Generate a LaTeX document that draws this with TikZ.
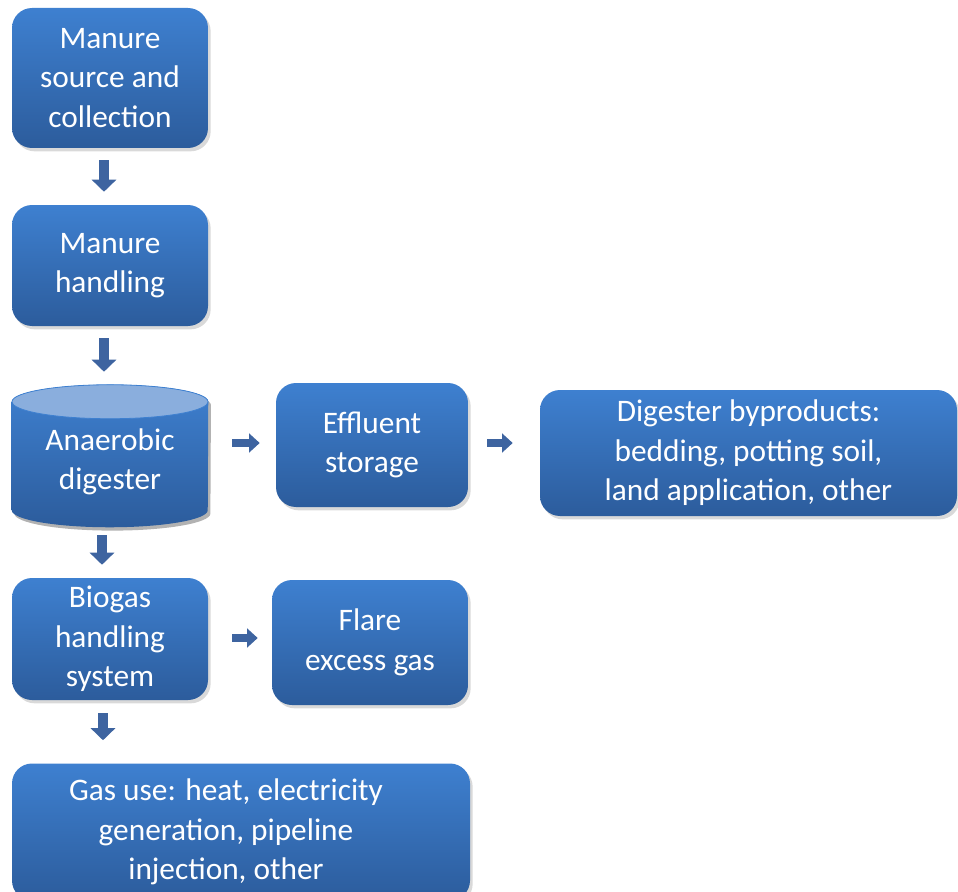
\documentclass[tikz,border=0pt]{standalone}
\usepackage{fontspec}
\setmainfont{Carlito}
\usetikzlibrary{arrows.meta,calc,shadows}
\pgfdeclarelayer{background}
\pgfsetlayers{background,main}

\definecolor{boxtop}{RGB}{62,128,208}
\definecolor{boxbottom}{RGB}{44,92,156}
\definecolor{capfill}{RGB}{138,174,221}
\definecolor{arrowfill}{RGB}{62,100,160}

\tikzset{
  stage/.style={rectangle, rounded corners=15pt, top color=boxtop, bottom color=boxbottom,
    draw=none, text=white, align=center, inner sep=2pt, minimum width=147pt,
    font=\fontsize{23.5}{29.6}\selectfont,
    drop shadow={opacity=0.3, shadow xshift=2pt, shadow yshift=-2.5pt}},
  tank/.style={rectangle, text=white, align=center, inner sep=2pt,
    minimum width=147pt, minimum height=106.5pt, font=\fontsize{23.5}{29.6}\selectfont},
  downarrow/.style={draw=arrowfill, line width=7pt, -{Triangle[width=18pt,length=9pt]}},
  sidearrow/.style={draw=arrowfill, line width=6pt, -{Triangle[width=14pt,length=8pt]}},
}

\begin{document}
\begin{tikzpicture}[x=0.75pt, y=-0.75pt]
    \useasboundingbox (0,0) rectangle (958,892);

    \node[stage, minimum height=105pt] (manure) at (110,78) {Manure\\source and\\collection};
    \node[stage, minimum height=90.75pt] (handling) at (110,265.5) {Manure\\handling};
    \node[tank] (digester) at (110,462) {Anaerobic\\digester};
    \node[stage, minimum height=93pt, minimum width=144pt] (effluent) at (372,445) {Effluent\\storage};
    \node[stage, minimum height=94.5pt, minimum width=312.75pt] (byproducts) at (748.5,453)
        {Digester byproducts:\\bedding, potting soil,\\land application, other};
    \node[stage, minimum height=91.5pt] (biogas) at (110,639) {Biogas\\handling\\system};
    \node[stage, minimum height=93.75pt] (flare) at (370,642.5) {Flare\\excess gas};
    \node[stage, minimum height=102.75pt, minimum width=343.5pt] (gasuse) at (241,832)
        {\hspace*{-22.5pt}Gas use: heat, electricity\\
         \hspace*{-22.5pt}generation, pipeline\\
         \hspace*{-22.5pt}injection, other};

    % digester drawn as a cylinder behind its text
    \begin{pgfonlayer}{background}
        \shade[top color=boxtop, bottom color=boxbottom,
            preaction={fill=black, opacity=0.3, transform canvas={xshift=2pt, yshift=-2.5pt}}]
            ($(digester.north west)+(0,11)$) -- ($(digester.south west)+(0,-23)$)
            arc[start angle=180, end angle=360, x radius=73.5pt, y radius=12.75pt]
            -- ($(digester.north east)+(0,11)$)
            arc[start angle=0, end angle=180, x radius=73.5pt, y radius=12.75pt] -- cycle;
        \filldraw[fill=capfill, draw=boxtop, line width=0.6pt]
            ($(digester.north)+(0,11)$) ellipse[x radius=73.5pt, y radius=12.75pt];
    \end{pgfonlayer}

    \draw[downarrow] ($(manure.south)+(-6,12)$) -- ($(handling.north)+(-6,-13)$);
    \draw[downarrow] ($(handling.south)+(-6,12)$) -- ($(digester.north)+(-6,-19)$);
    \draw[downarrow] ($(digester.south)+(-8,2)$) -- ($(biogas.north)+(-8,-13)$);
    \draw[downarrow] ($(biogas.south)+(-7,13)$) -- ($(biogas.south |- gasuse.north)+(-7,-23)$);
    \draw[sidearrow] ($(digester.east |- effluent.west)+(24,-2)$) -- ($(effluent.west)+(-16,-2)$);
    \draw[sidearrow] ($(effluent.east)+(19,-2)$) -- ($(byproducts.west |- effluent.east)+(-27,-2)$);
    \draw[sidearrow] ($(biogas.east)+(24,-1)$) -- ($(flare.west |- biogas.east)+(-14,-1)$);
\end{tikzpicture}
\end{document}
